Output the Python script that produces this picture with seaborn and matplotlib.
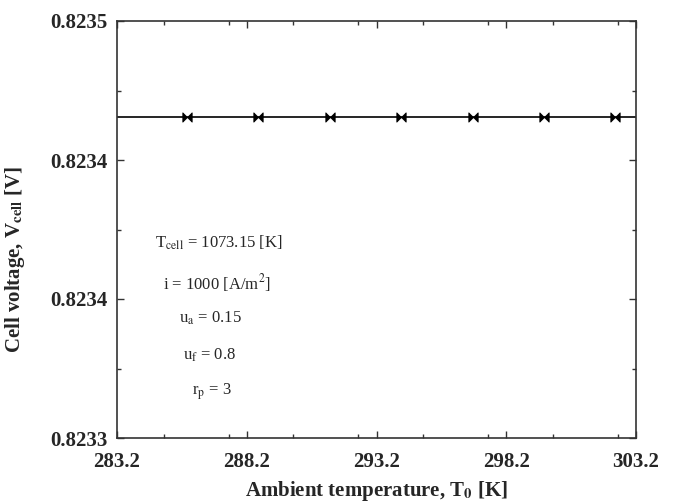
import numpy as np
import pandas as pd
import matplotlib
matplotlib.use("Agg")
import matplotlib.pyplot as plt
import seaborn as sns
from matplotlib.path import Path
from matplotlib.ticker import MultipleLocator, FormatStrFormatter

# data
t_line = [283.2, 303.2]
v_line = [0.823454, 0.823454]
t_marks = [285.9, 288.65, 291.4, 294.15, 296.9, 299.65, 302.4]
v_marks = [0.823454] * 7
x_ticks = [283.2, 288.2, 293.2, 298.2, 303.2]
y_ticks = [0.8233, 0.8233 + 0.0002 / 3, 0.8233 + 0.0004 / 3, 0.8235]
notes = [r"T$_{\mathrm{cell}}$ = 1073.15 [K]",
         r"i = 1000 [A/m$^{2}$]",
         r"u$_{\mathrm{a}}$ = 0.15",
         r"u$_{\mathrm{f}}$ = 0.8",
         r"r$_{\mathrm{p}}$ = 3"]
note_x = [219, 217, 210, 210, 212]
note_y = [243, 283, 318, 355, 392]

sns.set_style("ticks")
plt.rcParams['font.family'] = ['Liberation Serif', 'DejaVu Serif']
plt.rcParams['mathtext.fontset'] = 'stix'

fig = plt.figure(figsize=(6.75, 5.03), dpi=100)
ax = fig.add_axes([117 / 675, 1 - 438 / 503, (636 - 117) / 675, (438 - 21) / 503])

line_df = pd.DataFrame({"T0": t_line, "V": v_line})
mark_df = pd.DataFrame({"T0": t_marks, "V": v_marks})
sns.lineplot(data=line_df, x="T0", y="V", color="black", lw=1.2, ax=ax)

# bowtie marker
bow = Path([(-1, -1), (0, 0), (-1, 1), (-1, -1), (1, -1), (0, 0), (1, 1), (1, -1)],
           [Path.MOVETO, Path.LINETO, Path.LINETO, Path.CLOSEPOLY,
            Path.MOVETO, Path.LINETO, Path.LINETO, Path.CLOSEPOLY])
sns.scatterplot(data=mark_df, x="T0", y="V", marker=bow, s=45, color="black",
                edgecolor="black", linewidth=0.6, ax=ax, zorder=3)

ax.set_xlim(283.2, 303.2)
ax.set_ylim(0.8233, 0.8235)
ax.set_xticks(x_ticks)
ax.set_yticks(y_ticks)
ax.xaxis.set_minor_locator(MultipleLocator(2.5))
ax.yaxis.set_minor_locator(MultipleLocator(0.0002 / 6))
ax.xaxis.set_major_formatter(FormatStrFormatter("%.1f"))
ax.yaxis.set_major_formatter(FormatStrFormatter("%.4f"))
ax.tick_params(which="both", direction="in", top=True, right=True, color="#333333")
ax.tick_params(which="major", length=5, width=1, labelsize=15, pad=7)
ax.tick_params(axis="x", which="major", pad=10)
ax.tick_params(which="minor", length=3, width=1)
for lab in ax.get_xticklabels() + ax.get_yticklabels():
    lab.set_fontweight("bold")
for sp in ax.spines.values():
    sp.set_linewidth(1.2)
    sp.set_color("#333333")

ax.set_xlabel(r"Ambient temperature, T$_{\mathbf{0}}$ [K]", fontsize=15,
              fontweight="bold")
ax.xaxis.set_label_coords(0.5, (438 - 479) / 417)
ax.set_ylabel(r"Cell voltage, V$_{\mathbf{cell}}$ [V]", fontsize=15,
              fontweight="bold")
ax.yaxis.set_label_coords((27 - 117) / 519, (438 - 259) / 417)

for txt, xx, yy in zip(notes, note_x, note_y):
    fig.text(xx / 675, 1 - yy / 503, txt, fontsize=12, ha="center", va="center")

fig.savefig("out.png", dpi=100)
